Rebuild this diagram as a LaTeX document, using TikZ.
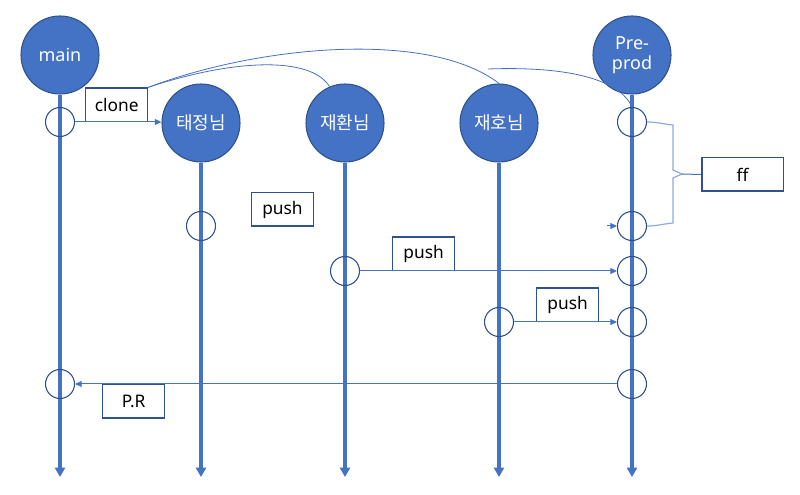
\documentclass[tikz,border=0pt]{standalone}
\usepackage{fontspec}
\setmainfont{Noto Sans}
\newfontfamily\krfont{Noto Sans CJK KR}
\usetikzlibrary{positioning, arrows.meta, calc}
\definecolor{gitblue}{RGB}{68,114,196}
\definecolor{gitdark}{RGB}{47,82,143}
\definecolor{gitlight}{RGB}{143,170,220}
\tikzset{
    person/.style={
        circle, draw=gitdark, line width=0.8pt, fill=gitblue, text=white,
        minimum size=58.5pt, inner sep=0pt, align=center,
        font=\fontsize{13.5}{15}\selectfont
    },
    commit/.style={
        circle, draw=gitdark, line width=0.8pt, minimum size=21.75pt, inner sep=0pt
    },
    branch/.style={
        -{Triangle[length=7pt,width=7.5pt]}, line width=3pt, gitblue
    },
    flow/.style={
        -{Triangle[length=5pt,width=4.5pt]}, line width=0.75pt, gitblue
    },
    tagbox/.style={
        draw=gitdark, line width=1pt, fill=white, minimum width=46.5pt,
        minimum height=25pt, inner sep=0pt, font=\fontsize{13}{15}\selectfont
    }
}
\begin{document}
\begin{tikzpicture}[x=0.75pt, y=-0.75pt]
    \useasboundingbox (0,0) rectangle (800,495);

    % 사람 / 브랜치
    \node[person] (main) at (60,55) {main};
    \node[person] (tj) at (201,123) {\krfont 태정님};
    \node[person] (jh) at (345,123) {\krfont 재환님};
    \node[person] (jho) at (499,123) {\krfont 재호님};
    \node[person] (pre) at (632,55) {Pre-\\prod};

    % 타임라인
    \coordinate (mainend) at (60,477);
    \draw[branch] (main.south) -- (main.south |- mainend);
    \draw[branch] (tj.south) -- (tj.south |- mainend);
    \draw[branch] (jh.south) -- (jh.south |- mainend);
    \draw[branch] (jho.south) -- (jho.south |- mainend);
    \draw[branch] (pre.south) -- (pre.south |- mainend);

    % 커밋
    \node[commit] (mc1) at (60,122) {};
    \node[commit] (mc2) at (60,384) {};
    \node[commit] (tjc) at (201,226) {};
    \node[commit] (jhc) at (345,271) {};
    \node[commit] (jhoc) at (499,322) {};
    \node[commit] (pc1) at (632,122) {};
    \node[commit] (pc2) at (632,226) {};
    \node[commit] (pc3) at (632,271) {};
    \node[commit] (pc4) at (632,322) {};
    \node[commit] (pc5) at (632,384) {};

    % clone
    \node[tagbox, anchor=south west] (clone) at (85,122) {clone};
    \draw[flow] (mc1.east) -- (mc1.east -| tj.west);
    \coordinate (split) at (488,69);
    \draw[gitblue, line width=0.6pt] (clone.north east) .. controls (230,60) and (310,55) .. (jh.113);
    \draw[gitblue, line width=0.6pt] (clone.north east) .. controls (260,45) and (430,30) .. (jho.north);
    \draw[gitblue, line width=0.6pt] (split) .. controls (570,66) and (620,80) .. (pc1.north);

    % push
    \node[tagbox] (push1) at (282.5,209.5) {push};
    \node[tagbox, anchor=south west] (push2) at (392,271) {push};
    \draw[flow] (jhc.east) -- (pc3.west);
    \node[tagbox, anchor=south west] (push3) at (536,322) {push};
    \draw[flow] (jhoc.east) -- (pc4.west);
    \coordinate (stub) at (607,226);
    \draw[flow] (stub) -- (pc2.west);

    % P.R
    \node[tagbox, anchor=north west] (pr) at (102,384) {P.R};
    \draw[flow] (pc5.west) -- (mc2.east);

    % ff
    \node[tagbox, minimum width=61pt] (ff) at (742.5,174.5) {ff};
    \coordinate (fftip) at (682,174);
    \draw[gitlight, line width=0.9pt] (pc1.east) to[out=0, in=175] (673,125) -- (673,170) -- (fftip)
        -- (673,178) -- (673,223) to[out=185, in=0] (pc2.east);
    \draw[gitblue, line width=0.75pt] (fftip) -- (ff.west);
\end{tikzpicture}
\end{document}
